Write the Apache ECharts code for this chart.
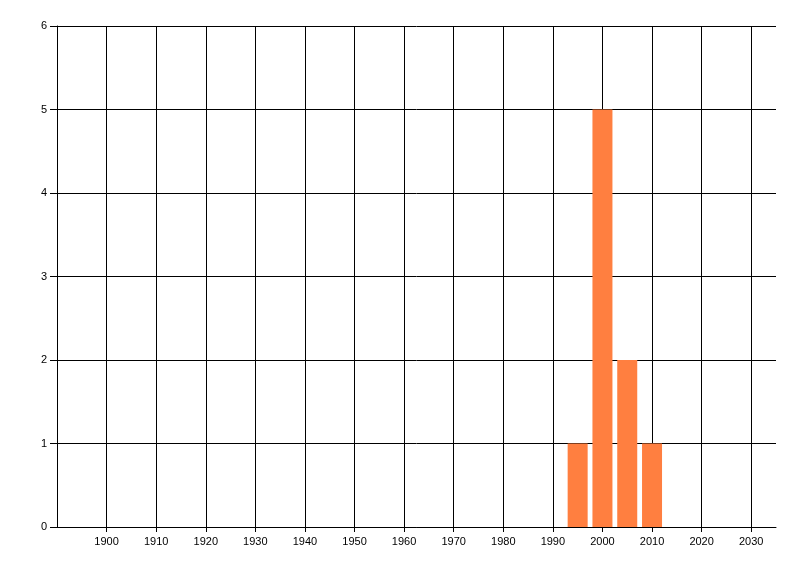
<!DOCTYPE html>
<html>
<head>
<meta charset="utf-8">
<script src="https://cdn.jsdelivr.net/npm/echarts@6/dist/echarts.min.js"></script>
<style>html,body{margin:0;padding:0;background:#fff;}#c{width:800px;height:576px;}</style>
</head>
<body>
<div id="c"></div>
<script>
const years = [1995, 2000, 2005, 2010];
const counts = [1, 5, 2, 1];
const xTicks = [1900, 1910, 1920, 1930, 1940, 1950, 1960, 1970, 1980, 1990, 2000, 2010, 2020, 2030];
const xMin = 1890, xMax = 2035, xStep = 10;
const yMin = 0, yMax = 6, yStep = 1;

const chart = echarts.init(document.getElementById('c'), null, {renderer: 'canvas'});
const font = {fontFamily: 'Liberation Sans', fontSize: 11, color: '#000'};
chart.setOption({
  animation: false,
  grid: {left: 57, right: 24, top: 26, bottom: 49, containLabel: false},
  xAxis: {
    type: 'value', min: xMin, max: xMax, interval: xStep,
    axisLine: {show: true, lineStyle: {color: '#000', width: 1}},
    axisTick: {show: true, length: 5, customValues: xTicks, lineStyle: {color: '#000'}},
    splitLine: {show: true, lineStyle: {color: '#000', width: 1}},
    axisLabel: Object.assign({margin: 9, customValues: xTicks, formatter: v => String(v)}, font)
  },
  yAxis: {
    type: 'value', min: yMin, max: yMax, interval: yStep,
    axisLine: {show: true, lineStyle: {color: '#000', width: 1}},
    axisTick: {show: true, length: 7, lineStyle: {color: '#000'}},
    splitLine: {show: true, lineStyle: {color: '#000', width: 1}},
    axisLabel: Object.assign({margin: 10}, font)
  },
  series: [{
    type: 'bar',
    barWidth: 20,
    itemStyle: {color: '#FF7F40'},
    data: years.map((y, i) => [y, counts[i]])
  }]
});
</script>
</body>
</html>
